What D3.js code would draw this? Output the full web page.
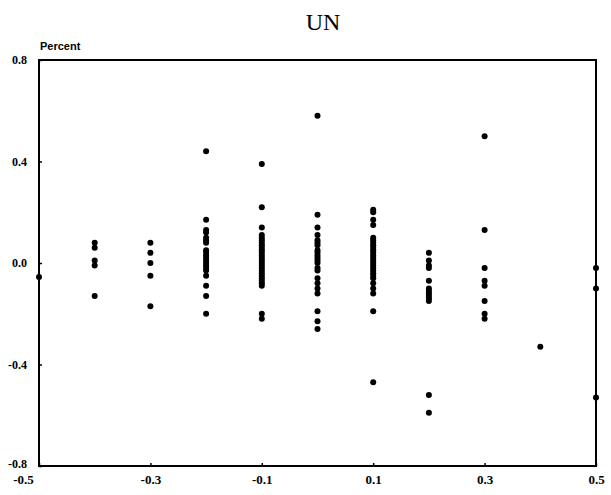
<!DOCTYPE html>
<html>
<head>
<meta charset="utf-8">
<script src="https://cdn.jsdelivr.net/npm/d3@7"></script>
<style>
  html, body { margin: 0; padding: 0; background: #fff; }
  svg { display: block; }
</style>
</head>
<body>
<svg id="chart" width="611" height="495"></svg>
<script>
// Column positions (x) and the percent values observed at each
const xPositions = [-0.5, -0.4, -0.3, -0.2, -0.1, 0.0, 0.1, 0.2, 0.3, 0.4, 0.5];
const valuesM05 = [-0.055];
const valuesM04 = [0.08, 0.06, 0.01, -0.01, -0.13];
const valuesM03 = [0.08, 0.04, 0.0, -0.05, -0.17];
const valuesM02 = [0.44, 0.17, 0.13, 0.12, 0.10, 0.09, 0.08, 0.05, 0.04, 0.03, 0.02, 0.01, 0.0, -0.01, -0.02, -0.03, -0.05, -0.09, -0.13, -0.20];
const valuesM01 = [0.39, 0.22, 0.14, 0.11, 0.10, 0.09, 0.08, 0.07, 0.06, 0.05, 0.04, 0.03, 0.02, 0.01, 0.0, -0.01, -0.02, -0.03, -0.04, -0.05, -0.06, -0.07, -0.08, -0.09, -0.20, -0.22];
const values00 = [0.58, 0.19, 0.14, 0.11, 0.09, 0.08, 0.07, 0.05, 0.04, 0.03, 0.02, 0.01, 0.0, -0.02, -0.03, -0.06, -0.08, -0.10, -0.12, -0.19, -0.23, -0.26];
const valuesP01 = [0.21, 0.20, 0.17, 0.15, 0.10, 0.09, 0.08, 0.07, 0.06, 0.05, 0.04, 0.03, 0.02, 0.01, 0.0, -0.01, -0.02, -0.03, -0.04, -0.05, -0.06, -0.08, -0.10, -0.12, -0.19, -0.47];
const valuesP02 = [0.04, 0.01, -0.01, -0.02, -0.07, -0.10, -0.11, -0.12, -0.13, -0.14, -0.15, -0.52, -0.59];
const valuesP03 = [0.50, 0.13, -0.02, -0.07, -0.09, -0.15, -0.20, -0.22];
const valuesP04 = [-0.33];
const valuesP05 = [-0.02, -0.10, -0.53];
const columnValues = [valuesM05, valuesM04, valuesM03, valuesM02, valuesM01, values00, valuesP01, valuesP02, valuesP03, valuesP04, valuesP05];

const xTickValues = [-0.5, -0.3, -0.1, 0.1, 0.3, 0.5];
const yTickValues = [-0.8, -0.4, 0.0, 0.4, 0.8];
const titleText = "UN";
const yAxisTitle = "Percent";

const points = [];
xPositions.forEach((xv, i) => columnValues[i].forEach(v => points.push({ x: xv, y: v })));

const margin = { top: 60, right: 15, bottom: 29, left: 39 };
const W = 611, H = 495;
const innerW = W - margin.left - margin.right;
const innerH = H - margin.top - margin.bottom;

const svg = d3.select("#chart");
const g = svg.append("g").attr("transform", `translate(${margin.left},${margin.top})`);

const x = d3.scaleLinear().domain([-0.5, 0.5]).range([0, innerW]);
const y = d3.scaleLinear().domain([-0.8, 0.8]).range([innerH, 0]);

const labelFont = "'Liberation Serif', 'Times New Roman', serif";
const fmt = d => d3.format(".1f")(d).replace("−", "-");

// Frame
g.append("rect")
  .attr("x", 0).attr("y", 0)
  .attr("width", innerW).attr("height", innerH)
  .attr("fill", "none").attr("stroke", "#000").attr("stroke-width", 2);

// Y axis
const yAxis = g.append("g")
  .call(d3.axisLeft(y).tickValues(yTickValues).tickSize(-3).tickPadding(12).tickFormat(fmt));
yAxis.select(".domain").remove();
yAxis.selectAll(".tick line").attr("stroke", "#000").attr("stroke-width", 1.5);
yAxis.selectAll("text")
  .attr("font-family", labelFont).attr("font-weight", "bold")
  .attr("font-size", 12).attr("fill", "#000")
  .attr("dy", d => d === -0.8 ? "0.1em" : "0.32em");

// X axis
const xAxis = g.append("g")
  .attr("transform", `translate(0,${innerH})`)
  .call(d3.axisBottom(x).tickValues(xTickValues).tickSize(-3).tickPadding(9).tickFormat(fmt));
xAxis.select(".domain").remove();
xAxis.selectAll(".tick line").attr("stroke", "#000").attr("stroke-width", 1.5);
xAxis.selectAll("text")
  .attr("font-family", labelFont).attr("font-weight", "bold")
  .attr("font-size", 13).attr("fill", "#000")
  .attr("dx", d => d === -0.5 ? -16 : 0);

// Points
g.append("g").selectAll("circle")
  .data(points)
  .join("circle")
  .attr("cx", d => x(d.x))
  .attr("cy", d => y(d.y))
  .attr("r", 3)
  .attr("fill", "#000");

// Title
svg.append("text")
  .attr("x", 323).attr("y", 30)
  .attr("text-anchor", "middle")
  .attr("font-family", labelFont)
  .attr("font-size", 24)
  .attr("fill", "#000")
  .text(titleText);

// Y axis title
svg.append("text")
  .attr("x", 40).attr("y", 50)
  .attr("font-family", "'Liberation Sans Narrow', 'Liberation Sans', sans-serif")
  .attr("font-weight", "bold")
  .attr("font-size", 11)
  .attr("fill", "#000")
  .text(yAxisTitle);
</script>
</body>
</html>
